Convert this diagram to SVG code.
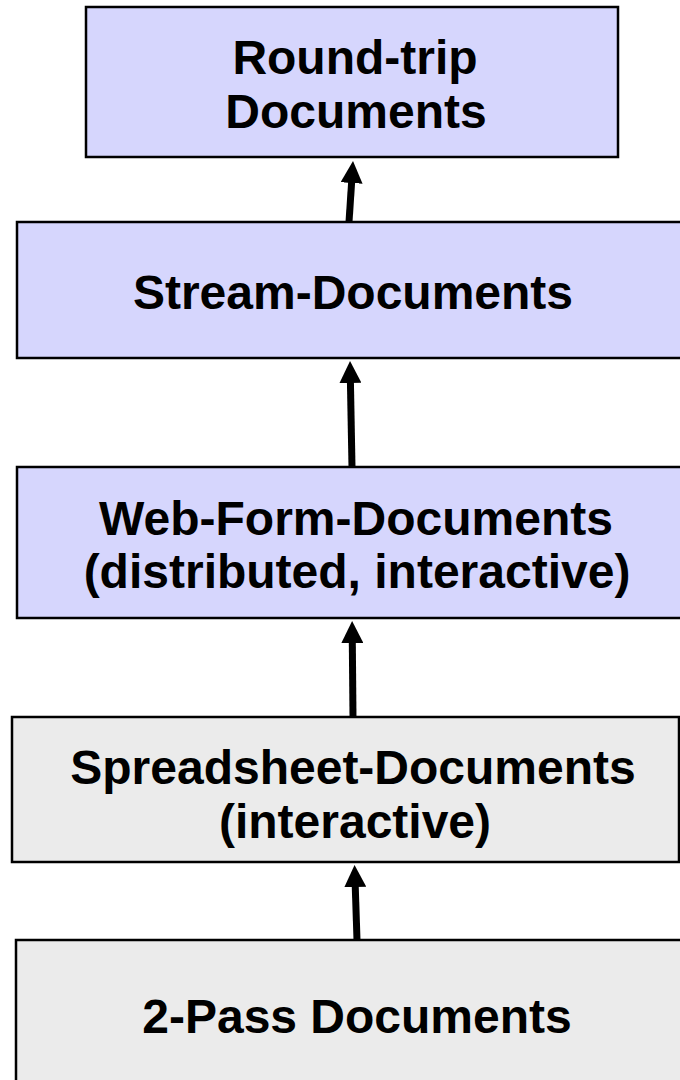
<svg xmlns="http://www.w3.org/2000/svg" width="680" height="1080" viewBox="0 0 680 1080">
<style>
.box{stroke:#000;stroke-width:2.5}
.blue{fill:#d6d6fd}
.gray{fill:#ebebeb}
.t{font-family:"Liberation Sans",Arial,sans-serif;font-weight:bold;font-size:48px;fill:#000;text-anchor:middle}
.c{stroke:#000;stroke-width:7;fill:none}
</style>
<defs>
<marker id="ah" markerUnits="userSpaceOnUse" markerWidth="22" markerHeight="22" refX="2" refY="11" orient="auto" viewBox="0 0 22 22">
<path d="M0,0 L22,11 L0,22 z" fill="#000"/>
</marker>
</defs>
<rect width="680" height="1080" fill="#fff"/>
<g id="connectors">
<line class="c" x1="349" y1="222" x2="351.7" y2="181" marker-end="url(#ah)"/>
<line class="c" x1="352" y1="467" x2="350.4" y2="381" marker-end="url(#ah)"/>
<line class="c" x1="353" y1="717" x2="352.3" y2="641" marker-end="url(#ah)"/>
<line class="c" x1="357" y1="940" x2="355.2" y2="885" marker-end="url(#ah)"/>
</g>
<g id="round-trip">
<rect class="box blue" x="86" y="7" width="532" height="150"/>
<text class="t" x="355" y="74">Round-trip</text>
<text class="t" x="356" y="128">Documents</text>
</g>
<g id="stream">
<rect class="box blue" x="17" y="222" width="680" height="136"/>
<text class="t" x="353" y="309">Stream-Documents</text>
</g>
<g id="web-form">
<rect class="box blue" x="17" y="467" width="680" height="151"/>
<text class="t" x="356" y="535">Web-Form-Documents</text>
<text class="t" x="357" y="588">(distributed, interactive)</text>
</g>
<g id="spreadsheet">
<rect class="box gray" x="12" y="717" width="667" height="145"/>
<text class="t" x="353" y="784">Spreadsheet-Documents</text>
<text class="t" x="355" y="838">(interactive)</text>
</g>
<g id="two-pass">
<rect class="box gray" x="16" y="940" width="680" height="160"/>
<text class="t" x="357" y="1033">2-Pass Documents</text>
</g>
</svg>
